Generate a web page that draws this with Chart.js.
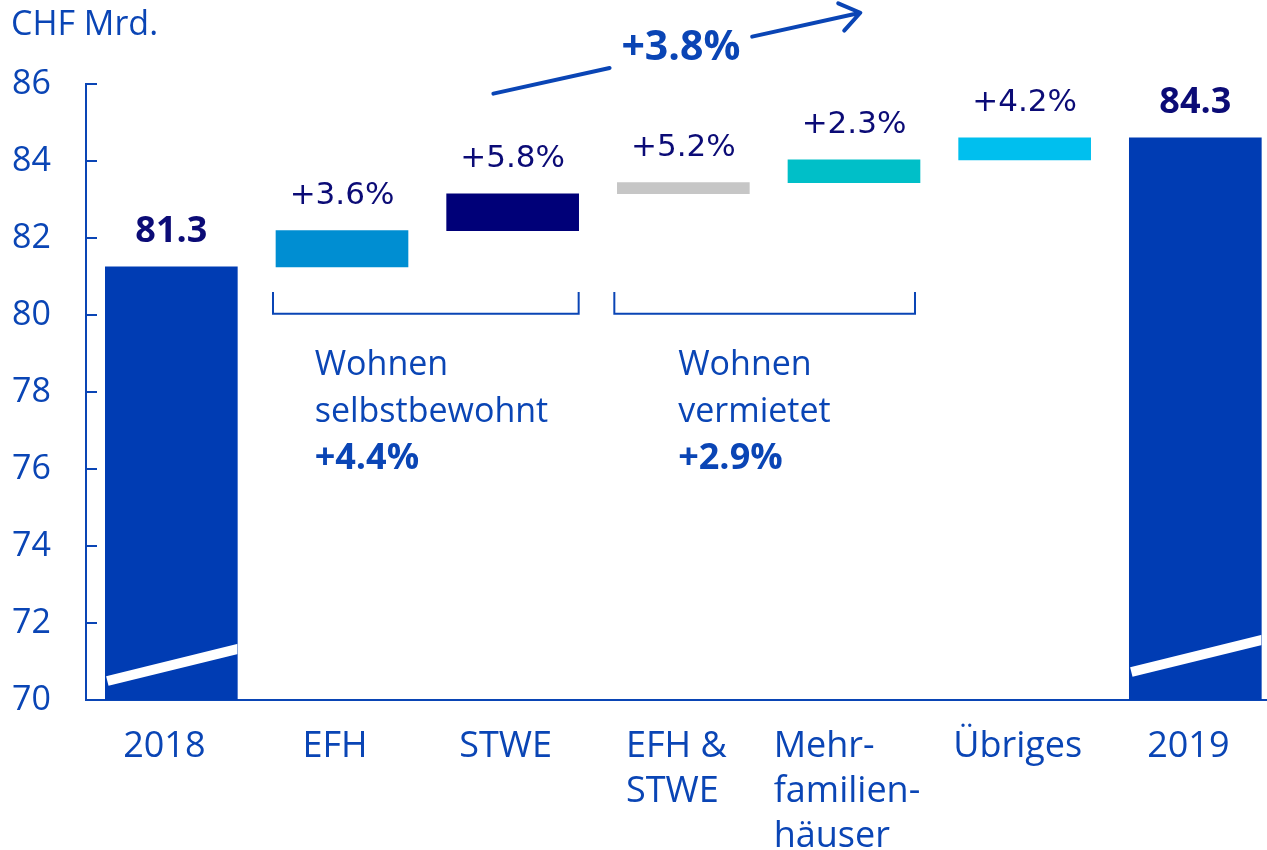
<!DOCTYPE html>
<html>
<head>
<meta charset="utf-8">
<script src="https://cdn.jsdelivr.net/npm/chart.js@4.4.0/dist/chart.umd.min.js"></script>
<style>
  html, body { margin: 0; padding: 0; background: #fff; overflow: hidden; }
</style>
</head>
<body>
<canvas id="myChart" width="1267" height="850"></canvas>
<script>
// data (CHF Mrd.)
var categories = [["2018"], ["EFH"], ["STWE"], ["EFH &", "STWE"], ["Mehr-", "familien-", "häuser"], ["Übriges"], ["2019"]];
var barStart = [70, 81.25, 82.19, 83.15, 83.44, 84.03, 70];
var barEnd = [81.25, 82.19, 83.15, 83.44, 84.03, 84.6, 84.6];
var changes = ["", "+3.6%", "+5.8%", "+5.2%", "+2.3%", "+4.2%", ""];
var totals = ["81.3", "", "", "", "", "", "84.3"];
var yTicks = [70, 72, 74, 76, 78, 80, 82, 84, 86];
var groupText = [["Wohnen", "selbstbewohnt", "+4.4%"], ["Wohnen", "vermietet", "+2.9%"]];
var totalGrowth = "+3.8%";
var unitLabel = "CHF Mrd.";

// colours
var blue = "#0a45b5";
var navy = "#0b0b76";
var barColors = ["#003cb3", "#008ed2", "#000078", "#c6c6c6", "#00bfc8", "#00bfee", "#003cb3"];

var sans = "'Open Sans', sans-serif";

// everything that is not a bar: labels, brackets, arrow, axis breaks
var decor = {
  id: "decor",
  afterDraw: function (chart) {
    var ctx = chart.ctx;
    var xs = chart.scales.x, ys = chart.scales.y;
    var area = chart.chartArea;
    var bars = chart.getDatasetMeta(0).data;
    ctx.save();

    // white break lines on the total bars
    [[0, 19, 51], [6, 28, 60]].forEach(function (b) {
      var bar = bars[b[0]];
      var l = bar.x - bar.width / 2, r = bar.x + bar.width / 2;
      ctx.save();
      ctx.beginPath();
      ctx.rect(l, bar.y, bar.width, bar.base - bar.y);
      ctx.clip();
      ctx.strokeStyle = "#fff";
      ctx.lineWidth = 10;
      ctx.beginPath();
      ctx.moveTo(l + 2, bar.base - b[1]);
      ctx.lineTo(r + 20, bar.base - b[2] - 20 * (b[2] - b[1]) / bar.width);
      ctx.stroke();
      ctx.restore();
    });

    // inward tick marks on the y axis
    ctx.strokeStyle = blue;
    ctx.lineWidth = 2;
    ys.ticks.forEach(function (t) {
      var py = Math.round(ys.getPixelForValue(t.value));
      ctx.beginPath();
      ctx.moveTo(area.left, py);
      ctx.lineTo(area.left + 11, py);
      ctx.stroke();
    });

    // unit label
    ctx.fillStyle = blue;
    ctx.font = "34px " + sans;
    ctx.textAlign = "left";
    ctx.textBaseline = "alphabetic";
    ctx.fillText(unitLabel, 11, 35);

    // values above the bars
    ctx.textAlign = "center";
    bars.forEach(function (bar, i) {
      if (totals[i]) {
        ctx.font = "bold 36px " + sans;
        ctx.fillStyle = navy;
        ctx.fillText(totals[i], bar.x, bar.y - 25);
      } else if (changes[i]) {
        ctx.font = "31px 'DejaVu Sans', sans-serif";
        ctx.fillStyle = navy;
        ctx.fillText(changes[i], bar.x, bar.y - 27);
      }
    });

    // category labels under the axis
    ctx.font = "36px " + sans;
    ctx.fillStyle = blue;
    ctx.textAlign = "left";
    categories.forEach(function (lines, i) {
      var w = 0;
      lines.forEach(function (s) { w = Math.max(w, ctx.measureText(s).width); });
      var left = xs.getPixelForValue(i) - w / 2 - 7;
      lines.forEach(function (s, k) {
        ctx.fillText(s, left, area.bottom + 57 + k * 45);
      });
    });

    // brackets below the groups
    ctx.strokeStyle = blue;
    ctx.lineWidth = 2;
    [[1, 2, 0], [3, 4, 5]].forEach(function (g) {
      var a = bars[g[0]], b = bars[g[1]];
      var l = a.x - a.width / 2 - 3, r = b.x + b.width / 2 - g[2];
      var t = ys.getPixelForValue(80.6), btm = ys.getPixelForValue(80.03);
      ctx.beginPath();
      ctx.moveTo(l, t);
      ctx.lineTo(l, btm);
      ctx.lineTo(r, btm);
      ctx.lineTo(r, t);
      ctx.stroke();
    });

    // group texts
    [[0.84, groupText[0]], [2.97, groupText[1]]].forEach(function (g) {
      var px = xs.getPixelForValue(g[0]);
      var py = ys.getPixelForValue(78.45);
      g[1].forEach(function (s, k) {
        ctx.font = (k === 2 ? "bold 36px " : "34px ") + sans;
        ctx.fillStyle = blue;
        ctx.fillText(s, px, py + k * 47);
      });
    });

    // total growth arrow
    var x0 = xs.getPixelForValue(1.887), y0 = ys.getPixelForValue(85.75);
    var x1 = xs.getPixelForValue(4.037), y1 = ys.getPixelForValue(87.85);
    var dx = x1 - x0, dy = y1 - y0, len = Math.sqrt(dx * dx + dy * dy);
    var ux = dx / len, uy = dy / len;
    var gapA = 119, gapB = 265;
    ctx.strokeStyle = blue;
    ctx.lineWidth = 4;
    ctx.lineCap = "round";
    ctx.beginPath();
    ctx.moveTo(x0, y0);
    ctx.lineTo(x0 + ux * gapA, y0 + uy * gapA);
    ctx.moveTo(x0 + ux * gapB, y0 + uy * gapB);
    ctx.lineTo(x1, y1);
    var ang = Math.atan2(dy, dx);
    [0.62, -0.62].forEach(function (d) {
      ctx.moveTo(x1, y1);
      ctx.lineTo(x1 - 24 * Math.cos(ang + d), y1 - 24 * Math.sin(ang + d));
    });
    ctx.stroke();
    ctx.font = "bold 41px " + sans;
    ctx.fillStyle = blue;
    ctx.textAlign = "center";
    ctx.fillText(totalGrowth, x0 + ux * (gapA + gapB) / 2, 60);

    ctx.restore();
  }
};

var ctx = document.getElementById("myChart").getContext("2d");
var chart = new Chart(ctx, {
  type: "bar",
  data: {
    datasets: [
      {
        data: barStart.map(function (s, i) { return { x: i, y: [s, barEnd[i]] }; }),
        backgroundColor: barColors,
        borderWidth: 0,
        barThickness: 132,
      },
    ],
  },
  options: {
    responsive: false,
    animation: false,
    devicePixelRatio: 1,
    layout: { padding: { top: 84, left: 0, right: 0, bottom: 0 } },
    plugins: { legend: { display: false }, tooltip: { enabled: false } },
    scales: {
      x: {
        type: "linear",
        offset: false,
        min: -0.5,
        max: 6.42,
        grid: { display: false },
        ticks: { display: false },
        border: { display: true, color: blue, width: 2 },
        afterFit: function (s) { s.height = 150; },
      },
      y: {
        min: 70,
        max: 86,
        grid: { display: false, drawTicks: false },
        border: { display: true, color: blue, width: 2 },
        afterBuildTicks: function (s) { s.ticks = yTicks.map(function (v) { return { value: v }; }); },
        ticks: { color: blue, font: { family: "Open Sans", size: 34 }, padding: 35 },
        afterFit: function (s) { s.width = 86; },
      },
    },
  },
  plugins: [decor],
});
</script>
</body>
</html>
